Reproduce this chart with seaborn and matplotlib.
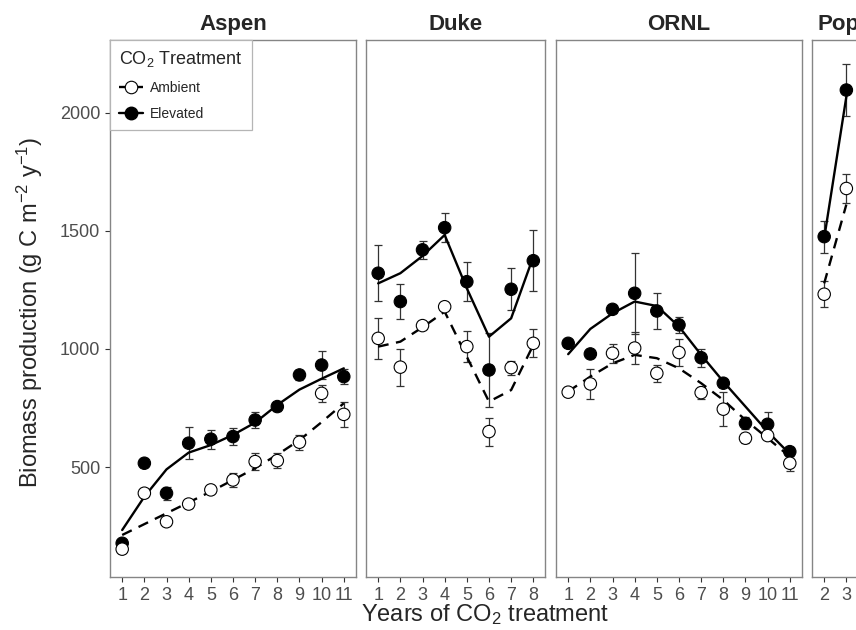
import matplotlib
matplotlib.use("Agg")
import matplotlib.pyplot as plt
from matplotlib.lines import Line2D
import pandas as pd
import seaborn as sns

sns.set_theme(style="ticks")
plt.rcParams["font.family"] = ["Liberation Sans", "DejaVu Sans"]
plt.rcParams["mathtext.fontset"] = "custom"
plt.rcParams["mathtext.rm"] = "Liberation Sans"
plt.rcParams["mathtext.it"] = "Liberation Sans:italic"
plt.rcParams["mathtext.bf"] = "Liberation Sans:bold"

# ---- data: annual biomass production (g C m-2 y-1), mean and SE ----
sites = ["Aspen", "Duke", "ORNL", "PopFACE"]

aspen_years = [1, 2, 3, 4, 5, 6, 7, 8, 9, 10, 11]
aspen_amb = [152, 389, 268, 343, 403, 445, 523, 527, 605, 812, 723]
aspen_amb_se = [15, 15, 15, 15, 15, 28, 35, 33, 32, 35, 53]
aspen_elev = [177, 516, 389, 601, 618, 629, 699, 756, 890, 932, 883]
aspen_elev_se = [15, 15, 27, 68, 40, 37, 32, 20, 20, 60, 32]
aspen_amb_fit = [212, 258, 304, 350, 396, 445, 495, 552, 614, 690, 770]
aspen_elev_fit = [233, 374, 490, 561, 593, 636, 688, 763, 828, 874, 918]

duke_years = [1, 2, 3, 4, 5, 6, 7, 8]
duke_amb = [1045, 923, 1099, 1179, 1010, 650, 921, 1024]
duke_amb_se = [86, 78, 15, 15, 65, 59, 30, 59]
duke_elev = [1321, 1201, 1420, 1514, 1285, 911, 1253, 1374]
duke_elev_se = [119, 73, 37, 60, 83, 155, 88, 129]
duke_amb_fit = [1010, 1031, 1092, 1158, 967, 777, 826, 1017]
duke_elev_fit = [1278, 1321, 1394, 1483, 1257, 1052, 1130, 1391]

ornl_years = [1, 2, 3, 4, 5, 6, 7, 8, 9, 10, 11]
ornl_amb = [817, 852, 982, 1004, 897, 985, 815, 745, 622, 633, 516]
ornl_amb_se = [15, 64, 40, 69, 35, 57, 25, 71, 20, 15, 34]
ornl_elev = [1024, 979, 1168, 1236, 1161, 1102, 963, 855, 685, 681, 565]
ornl_elev_se = [15, 15, 15, 172, 78, 35, 39, 15, 25, 50, 20]
ornl_amb_fit = [820, 883, 939, 975, 961, 918, 855, 784, 699, 622, 544]
ornl_elev_fit = [978, 1085, 1151, 1201, 1182, 1095, 975, 862, 756, 650, 555]

pop_years = [2, 3]
pop_amb = [1232, 1680]
pop_amb_se = [55, 60]
pop_elev = [1476, 2097]
pop_elev_se = [68, 111]
pop_amb_fit = [1278, 1612]
pop_elev_fit = [1469, 2069]

site_data = {
    "Aspen": (aspen_years, aspen_amb, aspen_amb_se, aspen_elev, aspen_elev_se,
              aspen_amb_fit, aspen_elev_fit),
    "Duke": (duke_years, duke_amb, duke_amb_se, duke_elev, duke_elev_se,
             duke_amb_fit, duke_elev_fit),
    "ORNL": (ornl_years, ornl_amb, ornl_amb_se, ornl_elev, ornl_elev_se,
             ornl_amb_fit, ornl_elev_fit),
    "PopFACE": (pop_years, pop_amb, pop_amb_se, pop_elev, pop_elev_se,
                pop_amb_fit, pop_elev_fit),
}

obs_rows, fit_rows = [], []
for site, (yrs, amb, amb_se, elev, elev_se, amb_fit, elev_fit) in site_data.items():
    # elevated first so open (ambient) symbols sit on top
    for y, v, s in zip(yrs, elev, elev_se):
        obs_rows.append((site, y, "Elevated", v, s))
    for y, v, s in zip(yrs, amb, amb_se):
        obs_rows.append((site, y, "Ambient", v, s))
    for y, v in zip(yrs, amb_fit):
        fit_rows.append((site, y, "Ambient", v))
    for y, v in zip(yrs, elev_fit):
        fit_rows.append((site, y, "Elevated", v))

obs = pd.DataFrame(obs_rows, columns=["site", "year", "treatment", "npp", "se"])
fits = pd.DataFrame(fit_rows, columns=["site", "year", "treatment", "fit"])

# ---- layout: panel widths proportional to the number of years ----
W, H = 856, 630
fig = plt.figure(figsize=(W / 100, H / 100), dpi=100)
fig.patch.set_facecolor("white")

unit_px = 22.16
panel_top, panel_bot = 40, 577
xlims = {"Aspen": (0.45, 11.55), "Duke": (0.45, 8.55),
         "ORNL": (0.45, 11.55), "PopFACE": (1.45, 6.55)}
lefts = {"Aspen": 110, "Duke": 366, "ORNL": 556, "PopFACE": 812}

dash_map = {"Ambient": (4.5, 3.2), "Elevated": ""}
fill_map = {"Ambient": "white", "Elevated": "black"}
border = "#858585"

axes = {}
for i, site in enumerate(sites):
    x0, x1 = xlims[site]
    wpx = (x1 - x0) * unit_px
    ax = fig.add_axes([lefts[site] / W, (H - panel_bot) / H,
                       wpx / W, (panel_bot - panel_top) / H])
    axes[site] = ax
    d = obs[obs.site == site]
    f = fits[fits.site == site]

    for trt in ["Elevated", "Ambient"]:
        dd = d[d.treatment == trt]
        ax.errorbar(dd.year, dd.npp, yerr=dd.se, fmt="none", ecolor="#333333",
                    elinewidth=0.9, capsize=2.6, capthick=0.9, zorder=1)

    sns.lineplot(data=f, x="year", y="fit", style="treatment", dashes=dash_map,
                 style_order=["Ambient", "Elevated"], color="black",
                 linewidth=1.7, estimator=None, errorbar=None, legend=False,
                 ax=ax, zorder=2)

    sns.scatterplot(data=d, x="year", y="npp", hue="treatment", palette=fill_map,
                    edgecolor="black", linewidth=0.8, s=80, legend=False,
                    ax=ax, zorder=3)

    ax.set_xlim(x0, x1)
    ax.set_ylim(34, 2309)
    ax.set_xticks(sorted(d.year.unique()))
    ax.set_yticks([500, 1000, 1500, 2000])
    ax.set_xlabel("")
    ax.set_ylabel("")
    ax.set_title(site, fontsize=16, fontweight="bold", pad=7)
    for sp in ax.spines.values():
        sp.set_visible(True)
        sp.set_color(border)
        sp.set_linewidth(1.0)
    ax.tick_params(axis="both", direction="out", length=3.5, width=0.8,
                   color="#333333", labelcolor="#4d4d4d", labelsize=13, pad=3.5)
    if i > 0:
        ax.tick_params(axis="y", left=False, labelleft=False)

# ---- legend inside the first panel ----
handles = [
    Line2D([], [], color="black", linestyle=(0, (4.5, 3.2)), linewidth=1.7,
           marker="o", markersize=9, markerfacecolor="white",
           markeredgecolor="black", markeredgewidth=0.8),
    Line2D([], [], color="black", linestyle="-", linewidth=1.7,
           marker="o", markersize=9, markerfacecolor="black",
           markeredgecolor="black"),
]
leg = axes["Aspen"].legend(handles, ["Ambient", "Elevated"],
                           title="CO$_2$ Treatment", loc="upper left",
                           bbox_to_anchor=(0, 1), borderaxespad=0,
                           frameon=True, fancybox=False, framealpha=1,
                           edgecolor="#b5b5b5", fontsize=10, title_fontsize=13,
                           handlelength=1.75, handletextpad=0.45,
                           labelspacing=0.85, borderpad=0.65, alignment="left")
leg.get_frame().set_linewidth(0.9)

fig.text(485 / W, 1 - 615 / H, "Years of CO$_2$ treatment",
         ha="center", va="center", fontsize=17)
fig.text(30 / W, 1 - 312 / H,
         "Biomass production (g C m$^{-2}$ y$^{-1}$)",
         ha="center", va="center", rotation=90, fontsize=17)

fig.savefig("out.png", dpi=100)
